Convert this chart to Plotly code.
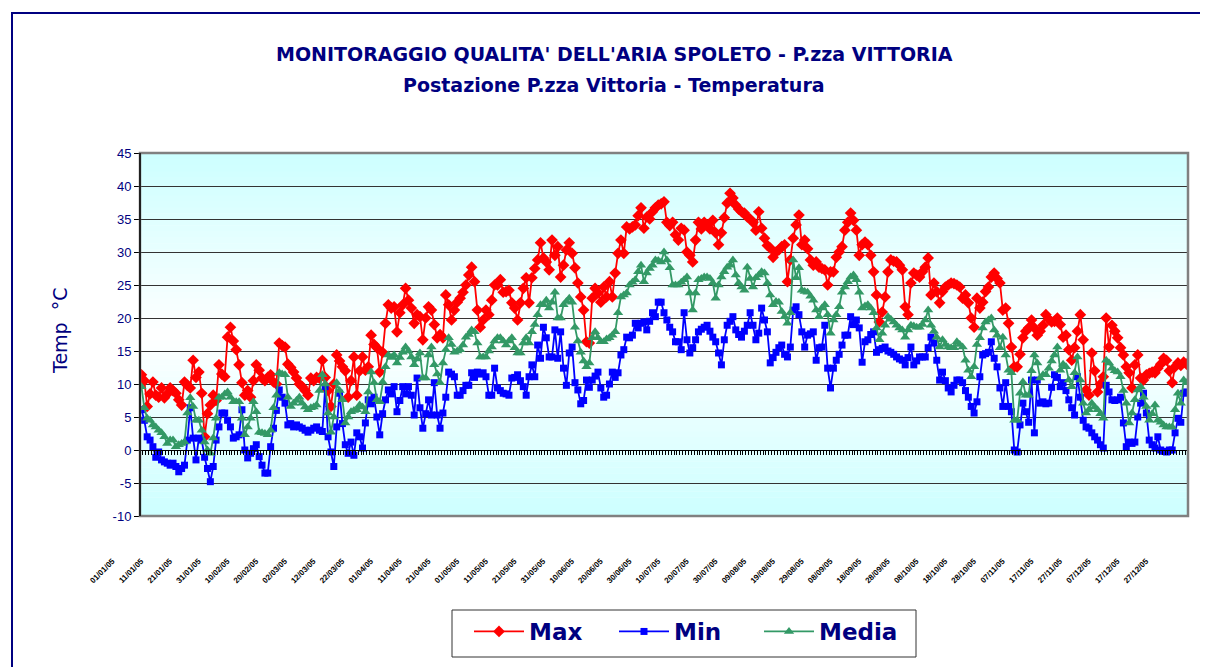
import plotly.graph_objects as go
import pandas as pd

# ---------------- data ----------------
dates = pd.date_range("2005-01-01", periods=365, freq="D")
day_labels = [d.strftime("%d/%m/%y") for d in dates]
tick_labels = day_labels[::10]

t_max = [
    11.4, 10.5, 6.6, 8.5, 10.3, 8.3, 8.0, 9.4, 7.9, 8.5,
    9.4, 9.0, 8.6, 7.6, 6.8, 10.3, 9.8, 9.4, 13.6, 11.0,
    11.8, 8.6, 2.0, 5.5, 6.8, 8.3, 7.5, 12.9, 11.5, 11.1,
    17.1, 18.6, 16.5, 15.2, 12.9, 10.2, 8.3, 9.0, 8.0, 10.5,
    12.9, 12.1, 10.9, 10.5, 11.0, 11.4, 10.3, 10.0, 16.2, 15.8,
    15.6, 13.0, 12.5, 11.8, 10.9, 10.0, 9.6, 9.0, 8.3, 10.9,
    10.5, 11.0, 10.9, 13.6, 11.0, 9.0, 6.6, 10.0, 14.4, 13.5,
    12.6, 12.0, 8.0, 10.5, 14.1, 8.3, 12.0, 14.1, 12.1, 12.6,
    17.4, 16.0, 15.5, 11.8, 14.8, 19.2, 22.0, 21.5, 21.7, 17.9,
    20.8, 22.0, 24.5, 22.7, 21.5, 19.2, 20.5, 20.2, 16.7, 20.0,
    21.7, 21.2, 19.0, 17.0, 17.5, 17.0, 23.5, 22.0, 19.7, 21.2,
    22.4, 23.0, 23.9, 25.0, 26.5, 27.7, 25.5, 21.2, 18.6, 19.7,
    21.2, 20.5, 22.7, 25.0, 25.0, 25.8, 23.9, 24.0, 24.2, 22.3,
    21.5, 19.7, 22.3, 24.5, 26.1, 22.3, 26.1, 27.5, 28.8, 31.4,
    29.1, 28.5, 27.3, 31.8, 29.5, 30.8, 26.2, 28.0, 30.3, 31.4,
    29.8, 27.6, 25.3, 23.2, 21.2, 16.4, 16.2, 23.0, 24.5, 23.8,
    22.4, 24.7, 23.2, 25.5, 23.2, 26.8, 29.8, 31.8, 29.8, 33.8,
    33.5, 33.8, 34.1, 35.5, 36.7, 33.6, 35.3, 35.0, 36.1, 36.7,
    37.1, 37.3, 37.6, 34.5, 34.0, 34.5, 32.6, 31.8, 33.6, 33.3,
    30.0, 29.5, 28.5, 31.8, 34.5, 33.5, 34.5, 34.1, 33.5, 34.8,
    32.9, 31.1, 32.9, 35.2, 37.4, 38.9, 38.2, 37.1, 36.5, 36.1,
    35.9, 35.3, 35.0, 34.5, 33.3, 36.1, 33.6, 32.1, 31.0, 30.6,
    29.2, 30.0, 30.3, 30.8, 31.1, 25.5, 28.8, 32.1, 34.1, 35.6,
    31.1, 31.8, 30.5, 28.8, 28.0, 28.5, 27.7, 27.5, 27.3, 25.0,
    27.0, 27.0, 29.2, 30.0, 30.8, 33.3, 34.5, 35.9, 34.8, 33.3,
    29.5, 31.1, 31.5, 31.1, 29.5, 27.0, 23.5, 19.4, 20.9, 23.2,
    27.0, 28.8, 28.6, 28.5, 28.0, 27.3, 21.7, 20.5, 25.3, 26.8,
    26.5, 26.2, 27.0, 27.7, 29.1, 23.5, 25.3, 24.0, 22.3, 24.0,
    24.7, 25.0, 25.3, 25.2, 25.0, 24.7, 23.0, 23.5, 22.3, 20.0,
    18.6, 23.0, 21.5, 22.4, 24.0, 24.7, 26.2, 26.8, 26.0, 25.3,
    21.2, 21.5, 19.2, 15.6, 12.6, 12.6, 14.5, 17.0, 18.0, 18.5,
    19.7, 18.5, 17.4, 18.0, 18.9, 20.5, 19.8, 19.4, 19.5, 20.0,
    19.0, 17.1, 17.4, 15.2, 13.6, 15.5, 18.0, 20.5, 16.7, 9.1,
    8.3, 14.7, 12.0, 8.8, 10.0, 11.1, 20.0, 15.6, 18.9, 18.0,
    17.0, 15.5, 14.4, 12.6, 11.7, 9.4, 12.9, 14.4, 10.9, 10.6,
    11.4, 11.6, 11.8, 11.7, 12.4, 13.0, 13.9, 13.6, 12.0, 10.2,
    12.6, 13.2, 12.8, 13.3, 13.0,
]

t_min = [
    6.1, 4.5, 2.0, 1.5, 0.5, -1.1, -0.3, -1.5, -1.8, -2.0,
    -2.3, -2.0, -2.5, -3.3, -2.8, -2.3, 1.5, 6.4, 1.8, -1.5,
    1.8, 1.5, -1.1, -2.8, -4.8, -2.5, 1.5, 3.5, 5.6, 5.6,
    4.5, 3.5, 1.8, 2.0, 2.3, 6.1, 0.0, -1.2, -0.5, 0.2,
    0.8, -1.0, -2.3, -3.5, -3.5, 0.5, 3.3, 6.0, 9.1, 8.0,
    7.1, 3.8, 4.0, 3.5, 3.8, 3.5, 3.3, 3.0, 2.7, 3.0,
    3.3, 3.5, 3.0, 2.8, 9.6, 2.0, -0.3, -2.5, 3.5, 8.6,
    4.0, 0.8, -0.5, 1.2, -0.8, 2.6, 2.0, 0.3, 4.1, 7.6,
    7.0, 8.0, 5.0, 2.3, 5.5, 7.6, 9.1, 8.5, 9.6, 5.8,
    7.5, 9.6, 8.5, 9.6, 8.3, 5.3, 10.9, 6.4, 3.3, 5.5,
    7.6, 5.3, 10.2, 5.3, 3.3, 5.6, 8.0, 11.8, 11.5, 11.1,
    8.3, 8.3, 9.0, 9.8, 9.8, 11.7, 11.0, 11.8, 11.5, 11.7,
    11.1, 8.3, 8.3, 12.4, 9.4, 9.0, 8.6, 8.5, 8.3, 10.9,
    11.0, 11.4, 10.5, 9.6, 8.3, 11.1, 12.9, 11.1, 15.9, 13.9,
    18.6, 17.0, 14.1, 14.1, 18.2, 13.9, 17.9, 12.4, 9.8, 14.7,
    15.6, 10.2, 9.1, 7.0, 7.5, 10.6, 9.5, 10.6, 11.2, 11.8,
    9.4, 8.0, 8.3, 10.0, 11.8, 11.0, 11.7, 14.4, 15.2, 17.1,
    17.0, 17.4, 19.2, 18.5, 19.2, 19.4, 18.2, 19.5, 20.8, 20.2,
    22.4, 22.4, 20.8, 19.7, 18.6, 17.9, 16.4, 16.4, 15.2, 20.8,
    16.7, 14.7, 15.5, 16.7, 17.9, 18.3, 18.6, 18.9, 18.0, 17.1,
    16.4, 14.7, 12.9, 16.7, 18.9, 19.5, 20.2, 18.2, 17.5, 17.1,
    18.0, 18.9, 20.8, 18.9, 16.7, 17.7, 21.5, 19.7, 17.9, 13.2,
    14.0, 14.8, 15.5, 15.9, 14.5, 14.1, 15.6, 21.2, 21.7, 20.5,
    17.9, 15.6, 17.4, 17.6, 17.9, 13.6, 15.5, 15.6, 18.9, 12.4,
    9.4, 12.4, 13.6, 14.5, 15.9, 17.4, 17.4, 20.2, 19.0, 19.7,
    18.5, 13.3, 16.4, 16.7, 17.5, 17.9, 14.8, 15.2, 15.4, 15.6,
    15.0, 14.8, 14.5, 14.1, 13.8, 13.6, 12.9, 14.0, 15.6, 12.9,
    13.5, 14.1, 14.1, 14.1, 15.5, 17.1, 16.2, 13.6, 10.6, 11.8,
    10.5, 9.4, 8.8, 9.8, 10.6, 10.6, 10.2, 9.0, 8.0, 6.6,
    5.6, 7.3, 11.1, 14.4, 14.6, 14.8, 16.4, 13.9, 12.6, 9.4,
    6.6, 10.2, 6.6, 5.8, 0.0, -0.3, 3.8, 7.1, 5.8, 4.2,
    10.6, 2.6, 10.6, 7.1, 7.3, 7.0, 7.1, 9.5, 11.4, 11.0,
    9.6, 10.2, 9.0, 7.6, 6.4, 5.3, 11.1, 8.0, 4.5, 3.5,
    3.3, 2.6, 2.0, 1.5, 0.8, 0.3, 9.8, 8.8, 7.6, 7.5,
    7.6, 8.0, 4.1, 0.5, 1.2, 1.0, 1.2, 5.0, 7.1, 8.6,
    5.6, 1.5, 0.8, 0.3, 2.0, 0.0, -0.2, -0.3, 0.0, 0.0,
    2.6, 4.8, 4.2, 8.6, 8.8,
]

t_media = [
    9.6, 6.4, 4.8, 4.5, 3.8, 3.5, 3.0, 2.6, 2.0, 1.0,
    1.5, 1.5, 0.5, 0.8, 1.0, 1.2, 5.6, 7.9, 6.6, 4.5,
    4.5, 3.0, 1.2, 0.0, -0.5, 1.8, 4.8, 8.0, 8.0, 8.5,
    8.8, 8.0, 7.3, 7.3, 7.3, 4.8, 2.3, 3.5, 4.8, 7.3,
    5.8, 2.7, 2.6, 2.5, 2.3, 3.0, 6.4, 8.3, 11.7, 11.5,
    11.4, 8.0, 6.6, 7.1, 7.5, 8.0, 7.1, 6.5, 6.1, 6.4,
    6.5, 6.8, 9.0, 11.4, 10.0, 5.6, 2.7, 5.0, 10.2, 9.0,
    7.6, 4.1, 5.0, 5.8, 6.0, 6.1, 6.8, 6.5, 5.8, 8.8,
    11.8, 10.2, 7.6, 7.3, 10.3, 12.6, 14.4, 14.0, 14.4, 13.2,
    14.0, 14.8, 15.6, 15.0, 14.1, 12.9, 13.8, 14.7, 10.9, 10.9,
    14.4, 15.6, 12.9, 11.5, 10.2, 13.2, 15.2, 17.0, 16.0, 14.8,
    15.0, 15.2, 15.9, 17.1, 17.5, 18.2, 17.9, 16.2, 14.1, 14.1,
    14.1, 15.0, 15.6, 16.5, 17.0, 17.0, 16.5, 15.9, 16.5, 17.0,
    15.5, 14.7, 14.7, 16.2, 17.0, 16.2, 17.9, 19.0, 20.5, 22.0,
    22.0, 22.7, 21.5, 22.4, 23.9, 20.0, 20.0, 22.0, 22.5, 23.0,
    22.4, 18.6, 16.5, 14.8, 13.5, 12.6, 13.2, 17.0, 17.9, 17.0,
    16.4, 16.4, 16.8, 17.0, 17.4, 17.9, 20.8, 23.2, 23.5, 23.8,
    25.0, 25.4, 25.8, 27.0, 28.0, 25.5, 26.8, 27.5, 28.0, 28.8,
    28.7, 28.5, 30.0, 28.8, 27.6, 25.0, 25.0, 25.0, 25.4, 25.8,
    26.2, 23.8, 21.2, 23.8, 25.8, 26.0, 26.2, 26.2, 26.0, 25.3,
    23.0, 25.0, 26.2, 27.0, 27.7, 28.0, 28.8, 26.5, 25.3, 24.7,
    24.2, 27.7, 26.0, 24.7, 26.1, 26.5, 27.0, 26.8, 25.3, 23.5,
    22.0, 22.5, 22.4, 21.0, 20.2, 19.2, 20.8, 28.8, 26.1, 27.6,
    24.2, 24.0, 23.9, 23.3, 22.7, 21.2, 20.2, 21.5, 22.0, 20.5,
    17.7, 19.7, 20.5, 21.7, 23.9, 24.7, 25.5, 26.2, 26.5, 25.8,
    23.9, 21.5, 21.8, 22.0, 21.5, 20.8, 18.5, 16.7, 17.7, 18.9,
    20.2, 19.8, 19.4, 18.9, 18.5, 18.2, 17.1, 18.2, 18.9, 18.8,
    18.6, 18.6, 19.0, 19.7, 21.2, 18.9, 18.0, 17.1, 15.6, 16.7,
    16.0, 15.6, 15.5, 15.5, 16.4, 16.0, 15.6, 13.6, 12.1, 11.1,
    12.6, 16.0, 17.0, 18.5, 19.4, 19.7, 20.0, 18.2, 17.4, 15.5,
    17.1, 14.4, 12.1, 11.7, 4.5, 4.5, 8.6, 10.3, 8.3, 8.3,
    12.0, 14.4, 13.2, 10.9, 11.4, 11.4, 12.4, 13.5, 14.4, 15.6,
    12.1, 13.0, 12.6, 10.6, 9.6, 11.7, 14.1, 10.6, 7.1, 5.6,
    6.1, 7.1, 6.5, 6.1, 5.5, 4.8, 13.6, 13.2, 12.4, 12.0,
    11.8, 11.1, 9.0, 7.1, 4.1, 5.6, 7.6, 9.1, 9.6, 8.0,
    6.6, 4.5, 5.5, 6.8, 4.5, 4.2, 3.8, 3.5, 3.5, 3.5,
    6.1, 8.6, 7.1, 10.6, 10.2,
]

y_ticks = list(range(-10, 50, 5))
y_tick_text = [str(v) for v in y_ticks]

assert len(t_max) == 365, len(t_max)
assert len(t_min) == 365, len(t_min)
assert len(t_media) == 365, len(t_media)

# ---------------- layout constants ----------------
OFF = 8                      # page body margin of the html page
W, H = 1200, 659             # figure size (fits inside 1208x667 window)
# plot area in screenshot pixels: x 140..1188, y 153..516
ML = 140 - OFF
MR = W - (1188 - OFF)
MT = 153 - OFF
MB = H - (516 - OFF)
PW, PH = W - ML - MR, H - MT - MB
FONT = "Liberation Sans, Arial, sans-serif"
WIDE = "DejaVu Sans, Verdana, sans-serif"
NAVY = "#000080"


def px_x(p):  # screenshot pixel -> paper x
    return (p - OFF - ML) / PW


def px_y(p):  # screenshot pixel -> paper y
    return (H - MB - (p - OFF)) / PH


fig = go.Figure()

fig.add_trace(go.Scatter(
    x=day_labels, y=t_max, name="Max", mode="lines+markers",
    line=dict(color="#FF0000", width=1.8),
    marker=dict(symbol="diamond", size=9, color="#FF0000"),
))
fig.add_trace(go.Scatter(
    x=day_labels, y=t_min, name="Min", mode="lines+markers",
    line=dict(color="#0000FF", width=1.8),
    marker=dict(symbol="square", size=7, color="#0000FF"),
))
fig.add_trace(go.Scatter(
    x=day_labels, y=t_media, name="Media", mode="lines+markers",
    line=dict(color="#339966", width=1.8),
    marker=dict(symbol="triangle-up", size=9, color="#339966"),
))

# gradient background (cyan at edges, white in the middle)
shapes = []
N = 60
c_edge = (204, 255, 255)
for k in range(N):
    c = (k + 0.5) / N
    t = abs(c - 0.5) / 0.5
    r = round(255 + (c_edge[0] - 255) * t)
    g = round(255 + (c_edge[1] - 255) * t)
    b = round(255 + (c_edge[2] - 255) * t)
    shapes.append(dict(
        type="rect", xref="x domain", yref="y domain",
        x0=0, x1=1, y0=k / N, y1=(k + 1) / N + 0.001,
        fillcolor=f"rgb({r},{g},{b})", line=dict(width=0), layer="below",
    ))
# plot-area border
shapes.append(dict(type="rect", xref="paper", yref="paper", x0=0, x1=1, y0=0, y1=1,
                   line=dict(color="#808080", width=2.5), layer="above"))
# left axis line
shapes.append(dict(type="line", xref="paper", yref="paper", x0=0, x1=0, y0=0, y1=1,
                   line=dict(color="black", width=1.5), layer="above"))
# outer chart frame
shapes.append(dict(type="rect", xref="paper", yref="paper",
                   x0=px_x(12), x1=px_x(1240), y0=px_y(700), y1=px_y(13),
                   line=dict(color=NAVY, width=2), layer="above"))
# legend box
shapes.append(dict(type="rect", xref="paper", yref="paper",
                   x0=px_x(452), x1=px_x(916), y0=px_y(657), y1=px_y(610),
                   fillcolor="white", line=dict(color="#333333", width=1), layer="above"))

fig.update_layout(
    width=W, height=H,
    margin=dict(l=ML, r=MR, t=MT, b=MB, autoexpand=False),
    paper_bgcolor="white", plot_bgcolor="white",
    font=dict(family=FONT, color=NAVY),
    shapes=shapes,
    showlegend=True,
    legend=dict(
        orientation="h", xref="container", yref="container",
        x=(475 - 6 - OFF) / W, xanchor="left",
        y=1 - (610 - OFF) / H, yanchor="top",
        bgcolor="rgba(0,0,0,0)", borderwidth=0,
        font=dict(size=23, color=NAVY, family=WIDE, weight="bold"),
        itemwidth=50, entrywidth=80,
    ),
    xaxis=dict(
        type="category", range=[-0.5, 364.5],
        tickmode="array", tickvals=tick_labels, ticktext=tick_labels,
        tickangle=-45, tickfont=dict(size=8, color="black", family=FONT, weight="bold"),
        ticks="", showgrid=False, showline=False, zeroline=False,
        ticklabelstandoff=38, ticklabelshift=-29,
    ),
    xaxis2=dict(
        overlaying="x", anchor="free", position=10 / 55, side="bottom",
        range=[-0.5, 364.5], tickmode="linear", tick0=-0.5, dtick=1,
        ticks="outside", ticklen=4, tickwidth=1, tickcolor="black",
        showticklabels=False, showgrid=False, zeroline=False,
        showline=True, linecolor="black", linewidth=1,
    ),
    yaxis=dict(
        range=[-10, 45], tickmode="array", tickvals=y_ticks, ticktext=y_tick_text,
        tickfont=dict(size=13, color=NAVY, family=FONT),
        ticks="outside", ticklen=5, tickcolor="black",
        showgrid=True, gridcolor="#333333", gridwidth=1,
        zeroline=False, showline=False,
    ),
    annotations=[
        dict(text="MONITORAGGIO QUALITA' DELL'ARIA SPOLETO - P.zza VITTORIA",
             xref="paper", yref="paper", x=px_x(614), y=px_y(54),
             xanchor="center", yanchor="middle", showarrow=False,
             font=dict(size=19, color=NAVY, family=WIDE, weight="bold")),
        dict(text="Postazione P.zza Vittoria - Temperatura",
             xref="paper", yref="paper", x=px_x(614), y=px_y(85),
             xanchor="center", yanchor="middle", showarrow=False,
             font=dict(size=19, color=NAVY, family=WIDE, weight="bold")),
        dict(text="Temp\u00a0\u00a0°C", xref="paper", yref="paper",
             x=px_x(60), y=px_y(331), xanchor="center", yanchor="middle",
             textangle=-90, showarrow=False,
             font=dict(size=19, color=NAVY, family=WIDE)),
    ],
)

# invisible trace on xaxis2 so the zero-line tick axis renders
fig.add_trace(go.Scatter(x=[0], y=[None], xaxis="x2", yaxis="y",
                         showlegend=False, hoverinfo="skip", mode="markers"))

fig.write_html("out.html")
